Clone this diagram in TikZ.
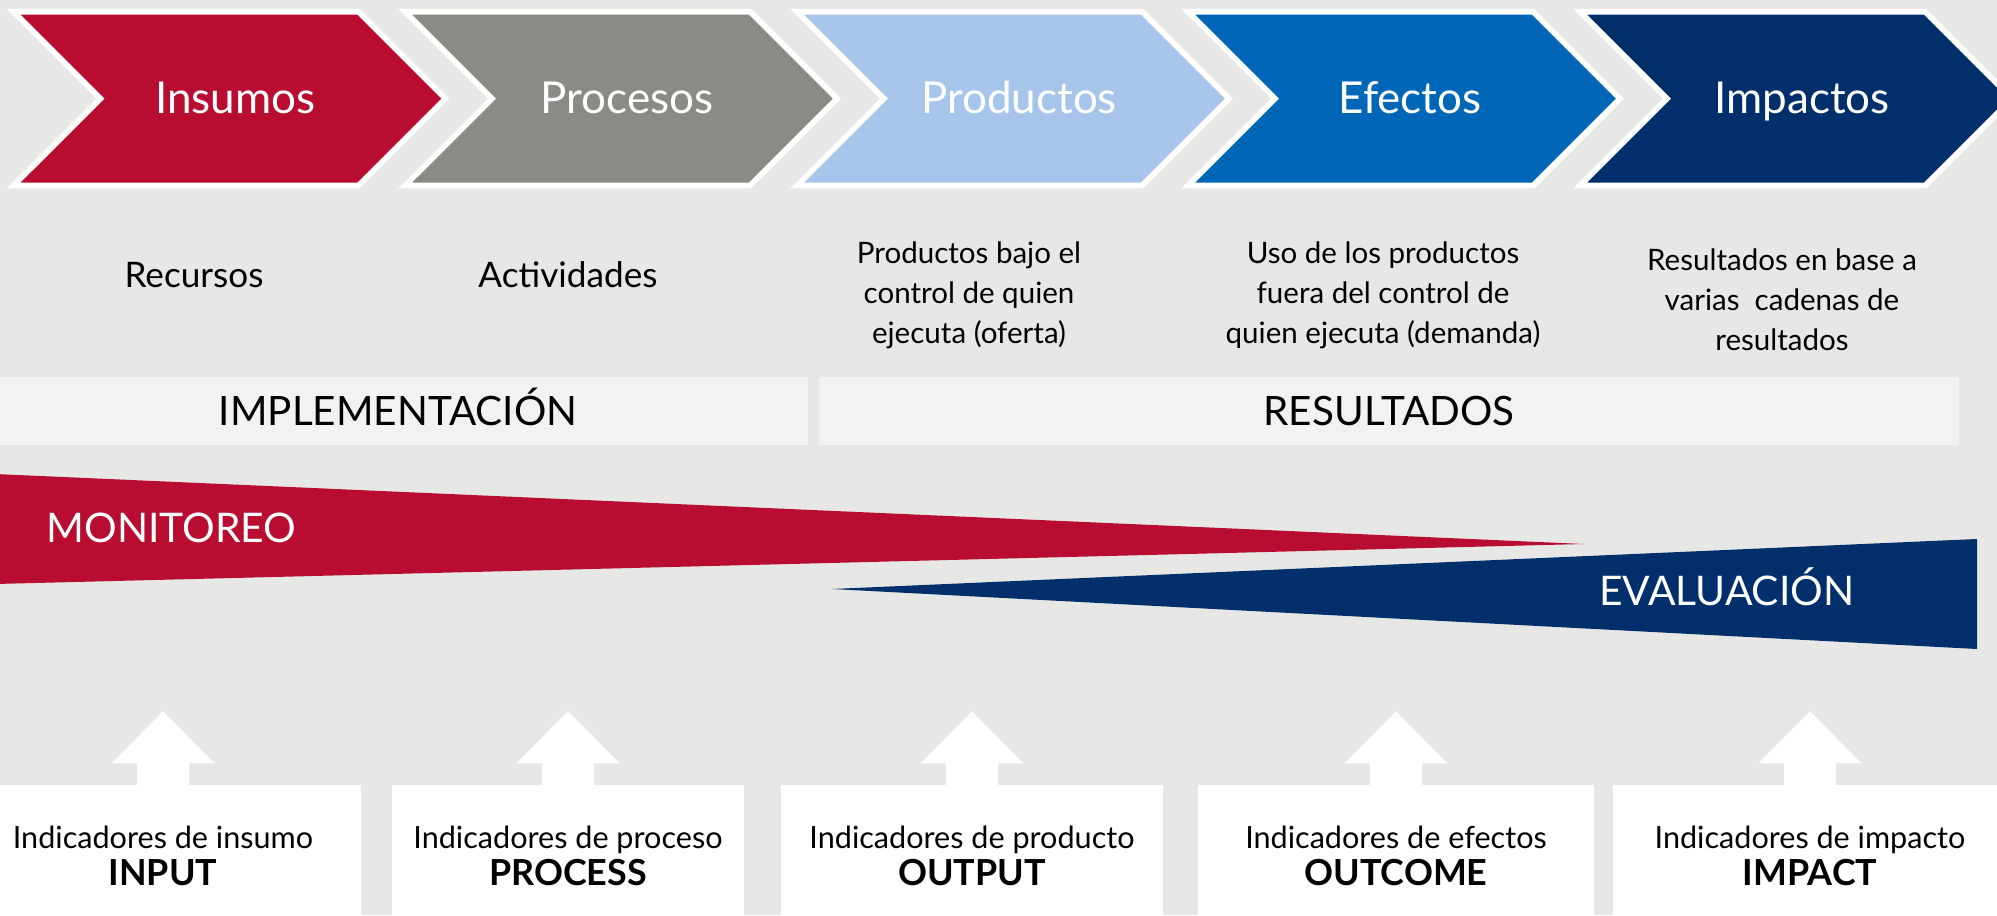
\documentclass[tikz,border=0pt]{standalone}
\usepackage{fontspec}
\setmainfont{Lato}
\usetikzlibrary{calc}

\definecolor{bggray}{HTML}{E7E7E5}
\definecolor{bandgray}{HTML}{F2F2F2}
\definecolor{crimson}{HTML}{B80D30}
\definecolor{stone}{HTML}{8C8A84}
\definecolor{skyblue}{HTML}{A7C5EB}
\definecolor{midblue}{HTML}{0066B8}
\definecolor{navy}{HTML}{002F6B}

\newcommand{\indname}[1]{{\fontsize{10.2}{10.5}\selectfont\bfseries #1}}

\begin{document}
\begin{tikzpicture}[x=0.01cm, y=-0.01cm,
  chev/.style={fill=#1, draw=white, line width=1.6pt, line join=miter},
  chevlabel/.style={anchor=base, text=white, font=\fontsize{12.5}{15}\selectfont},
  desc/.style={align=center, font=\fontsize{8.4}{11.4}\selectfont},
  band/.style={fill=bandgray, minimum height=0.68cm, inner sep=0pt,
    text height=8.2pt, text depth=0pt, font=\fontsize{11.5}{13}\selectfont},
  phase/.style={text=white, inner sep=0pt, font=\fontsize{11.6}{13}\selectfont},
  indbox/.style={fill=white, minimum height=1.42cm, align=center,
    font=\fontsize{8.7}{10.5}\selectfont}
]
  % Background
  \fill[bggray] (0,0) rectangle (1997,915);
  \useasboundingbox (0,0) rectangle (1997,915);

  % Chevrons
  \foreach \x/\col/\name/\txt in {13.5/crimson/insumos/Insumos,
      405/stone/procesos/Procesos, 797/skyblue/productos/Productos,
      1188/midblue/efectos/Efectos, 1580/navy/impactos/Impactos}{
    \draw[chev=\col] (\x,11.7) -- ++(345,0) -- ++(87,86.9) -- ++(-87,86.9)
      -- ++(-345,0) -- ++(87,-86.9) -- cycle;
    \node[chevlabel] (\name) at (\x+222,113) {\txt};
  }

  % Descriptions
  \node[anchor=base, font=\fontsize{10}{12}\selectfont] (recursos) at (194,287) {Recursos};
  \node[anchor=base, font=\fontsize{10}{12}\selectfont] (actividades) at (568,287) {Actividades};
  \node[desc] (oferta) at (969,295) {Productos bajo el\\control de quien\\ejecuta (oferta)};
  \node[desc] (demanda) at (1383,295) {Uso de los productos\\fuera del control de\\quien ejecuta (demanda)};
  \node[desc] (cadenas) at (1782,300) {Resultados en base a\\varias\ \ cadenas de\\resultados};

  % Bands
  \node[band, minimum width=8.2cm] (implementacion) at (398,411) {IMPLEMENTACIÓN};
  \node[band, minimum width=11.4cm] (resultados) at (1389,411) {RESULTADOS};

  % Monitoreo / Evaluacion
  \coordinate (M1) at (-5,474);
  \coordinate (M2) at (1584,544);
  \coordinate (M3) at (-5,584);
  \fill[crimson] (M1) -- (M2) -- (M3) -- cycle;
  \node[phase, anchor=base west] (monitoreo) at (46,542) {MONITOREO};

  \coordinate (E1) at (832,589);
  \coordinate (E2) at (1977,539);
  \coordinate (E3) at (1977,649);
  \fill[navy] (E1) -- (E2) -- (E3) -- cycle;
  \node[phase, anchor=base east] (evaluacion) at (1855,605) {EVALUACIÓN};

  % Indicator boxes
  \node[indbox, minimum width=3.95cm] (input) at (163,856) {Indicadores de insumo\\\indname{INPUT}};
  \node[indbox, minimum width=3.52cm] (process) at (568,856) {Indicadores de proceso\\\indname{PROCESS}};
  \node[indbox, minimum width=3.82cm] (output) at (972,856) {Indicadores de producto\\\indname{OUTPUT}};
  \node[indbox, minimum width=3.96cm] (outcome) at (1396,856) {Indicadores de efectos\\\indname{OUTCOME}};
  \node[indbox, minimum width=3.94cm] (impact) at (1810,856) {Indicadores de impacto\\\indname{IMPACT}};

  % Up arrows
  \foreach \b in {input,process,output,outcome,impact}
    \fill[white, shift={(\b.north)}] (-26,2) -- (-26,-21) -- (-51.5,-21) -- (0,-73)
      -- (51.5,-21) -- (26,-21) -- (26,2) -- cycle;
\end{tikzpicture}
\end{document}
